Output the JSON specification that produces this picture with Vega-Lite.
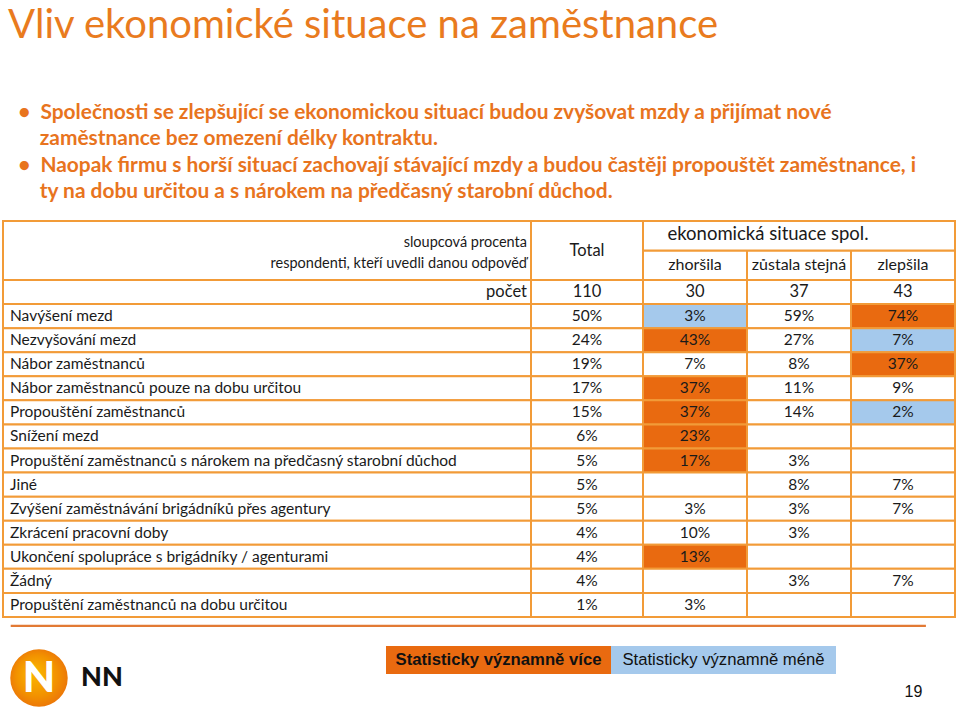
{
  "$schema": "https://vega.github.io/schema/vega-lite/v6.json",
  "background": "white",
  "padding": {"left": 2, "top": 5, "right": 0, "bottom": 0},
  "config": {
    "view": {"stroke": null},
    "text": {"font": "Lato", "fontSize": 15.5, "color": "#1A1A1A"},
    "concat": {"spacing": 0}
  },
  "title": {
    "text": "Vliv ekonomické situace na zaměstnance",
    "subtitle": [
      "\u200b\u00a0\u00a0•\u00a0\u00a0Společnosti se zlepšující se ekonomickou situací budou zvyšovat mzdy a přijímat nové",
      "\u200b\u00a0\u00a0\u00a0\u00a0\u00a0\u00a0\u200azaměstnance bez omezení délky kontraktu.",
      "\u200b\u00a0\u00a0•\u00a0\u00a0Naopak firmu s horší situací zachovají stávající mzdy a budou častěji propouštět zaměstnance, i",
      "\u200b\u00a0\u00a0\u00a0\u00a0\u00a0\u00a0\u200aty na dobu určitou a s nárokem na předčasný starobní důchod."
    ],
    "anchor": "start",
    "dx": 6,
    "font": "Lato",
    "fontSize": 40,
    "fontWeight": "normal",
    "color": "#E97B1E",
    "subtitleFont": "Lato",
    "subtitleFontSize": 20.9,
    "subtitleFontWeight": "bold",
    "subtitleColor": "#E8741E",
    "subtitlePadding": 56,
    "subtitleLineHeight": 26.5,
    "offset": 18
  },
  "datasets": {
    "cells": [
      {"item": "Navýšení mezd", "col": "Total", "pct": 0.50, "sig": ""},
      {"item": "Navýšení mezd", "col": "zhoršila", "pct": 0.03, "sig": "méně"},
      {"item": "Navýšení mezd", "col": "zůstala stejná", "pct": 0.59, "sig": ""},
      {"item": "Navýšení mezd", "col": "zlepšila", "pct": 0.74, "sig": "více"},
      {"item": "Nezvyšování mezd", "col": "Total", "pct": 0.24, "sig": ""},
      {"item": "Nezvyšování mezd", "col": "zhoršila", "pct": 0.43, "sig": "více"},
      {"item": "Nezvyšování mezd", "col": "zůstala stejná", "pct": 0.27, "sig": ""},
      {"item": "Nezvyšování mezd", "col": "zlepšila", "pct": 0.07, "sig": "méně"},
      {"item": "Nábor zaměstnanců", "col": "Total", "pct": 0.19, "sig": ""},
      {"item": "Nábor zaměstnanců", "col": "zhoršila", "pct": 0.07, "sig": ""},
      {"item": "Nábor zaměstnanců", "col": "zůstala stejná", "pct": 0.08, "sig": ""},
      {"item": "Nábor zaměstnanců", "col": "zlepšila", "pct": 0.37, "sig": "více"},
      {"item": "Nábor zaměstnanců pouze na dobu určitou", "col": "Total", "pct": 0.17, "sig": ""},
      {"item": "Nábor zaměstnanců pouze na dobu určitou", "col": "zhoršila", "pct": 0.37, "sig": "více"},
      {"item": "Nábor zaměstnanců pouze na dobu určitou", "col": "zůstala stejná", "pct": 0.11, "sig": ""},
      {"item": "Nábor zaměstnanců pouze na dobu určitou", "col": "zlepšila", "pct": 0.09, "sig": ""},
      {"item": "Propouštění zaměstnanců", "col": "Total", "pct": 0.15, "sig": ""},
      {"item": "Propouštění zaměstnanců", "col": "zhoršila", "pct": 0.37, "sig": "více"},
      {"item": "Propouštění zaměstnanců", "col": "zůstala stejná", "pct": 0.14, "sig": ""},
      {"item": "Propouštění zaměstnanců", "col": "zlepšila", "pct": 0.02, "sig": "méně"},
      {"item": "Snížení mezd", "col": "Total", "pct": 0.06, "sig": ""},
      {"item": "Snížení mezd", "col": "zhoršila", "pct": 0.23, "sig": "více"},
      {"item": "Snížení mezd", "col": "zůstala stejná", "pct": null, "sig": ""},
      {"item": "Snížení mezd", "col": "zlepšila", "pct": null, "sig": ""},
      {"item": "Propuštění zaměstnanců s nárokem na předčasný starobní důchod", "col": "Total", "pct": 0.05, "sig": ""},
      {"item": "Propuštění zaměstnanců s nárokem na předčasný starobní důchod", "col": "zhoršila", "pct": 0.17, "sig": "více"},
      {"item": "Propuštění zaměstnanců s nárokem na předčasný starobní důchod", "col": "zůstala stejná", "pct": 0.03, "sig": ""},
      {"item": "Propuštění zaměstnanců s nárokem na předčasný starobní důchod", "col": "zlepšila", "pct": null, "sig": ""},
      {"item": "Jiné", "col": "Total", "pct": 0.05, "sig": ""},
      {"item": "Jiné", "col": "zhoršila", "pct": null, "sig": ""},
      {"item": "Jiné", "col": "zůstala stejná", "pct": 0.08, "sig": ""},
      {"item": "Jiné", "col": "zlepšila", "pct": 0.07, "sig": ""},
      {"item": "Zvýšení zaměstnávání brigádníků přes agentury", "col": "Total", "pct": 0.05, "sig": ""},
      {"item": "Zvýšení zaměstnávání brigádníků přes agentury", "col": "zhoršila", "pct": 0.03, "sig": ""},
      {"item": "Zvýšení zaměstnávání brigádníků přes agentury", "col": "zůstala stejná", "pct": 0.03, "sig": ""},
      {"item": "Zvýšení zaměstnávání brigádníků přes agentury", "col": "zlepšila", "pct": 0.07, "sig": ""},
      {"item": "Zkrácení pracovní doby", "col": "Total", "pct": 0.04, "sig": ""},
      {"item": "Zkrácení pracovní doby", "col": "zhoršila", "pct": 0.10, "sig": ""},
      {"item": "Zkrácení pracovní doby", "col": "zůstala stejná", "pct": 0.03, "sig": ""},
      {"item": "Zkrácení pracovní doby", "col": "zlepšila", "pct": null, "sig": ""},
      {"item": "Ukončení spolupráce s brigádníky / agenturami", "col": "Total", "pct": 0.04, "sig": ""},
      {"item": "Ukončení spolupráce s brigádníky / agenturami", "col": "zhoršila", "pct": 0.13, "sig": "více"},
      {"item": "Ukončení spolupráce s brigádníky / agenturami", "col": "zůstala stejná", "pct": null, "sig": ""},
      {"item": "Ukončení spolupráce s brigádníky / agenturami", "col": "zlepšila", "pct": null, "sig": ""},
      {"item": "Žádný", "col": "Total", "pct": 0.04, "sig": ""},
      {"item": "Žádný", "col": "zhoršila", "pct": null, "sig": ""},
      {"item": "Žádný", "col": "zůstala stejná", "pct": 0.03, "sig": ""},
      {"item": "Žádný", "col": "zlepšila", "pct": 0.07, "sig": ""},
      {"item": "Propuštění zaměstnanců na dobu určitou", "col": "Total", "pct": 0.01, "sig": ""},
      {"item": "Propuštění zaměstnanců na dobu určitou", "col": "zhoršila", "pct": 0.03, "sig": ""},
      {"item": "Propuštění zaměstnanců na dobu určitou", "col": "zůstala stejná", "pct": null, "sig": ""},
      {"item": "Propuštění zaměstnanců na dobu určitou", "col": "zlepšila", "pct": null, "sig": ""}
    ],
    "counts": [
      {"col": "Total", "n": 110},
      {"col": "zhoršila", "n": 30},
      {"col": "zůstala stejná", "n": 37},
      {"col": "zlepšila", "n": 43}
    ],
    "legend": [
      {"sig": "více", "label": "Statisticky významně více"},
      {"sig": "méně", "label": "Statisticky významně méně"}
    ]
  },
  "vconcat": [
    {
      "vconcat": [
        {
          "columns": 3,
          "spacing": 0,
          "bounds": "flush",
          "concat": [
            {
              "width": 528,
              "height": 59,
              "view": {"stroke": "#F29B38", "strokeWidth": 2},
              "layer": [
                {
                  "data": {"values": [{"line": "sloupcová procenta"}]},
                  "mark": {"type": "text", "align": "right", "fontSize": 14.5, "dx": -4, "dy": -7.5},
                  "encoding": {"x": {"value": "width"}, "text": {"field": "line"}}
                },
                {
                  "data": {"values": [{"line": "respondenti, kteří uvedli danou odpověď"}]},
                  "mark": {"type": "text", "align": "right", "fontSize": 14.5, "dx": -4, "dy": 13.5},
                  "encoding": {"x": {"value": "width"}, "text": {"field": "line"}}
                }
              ]
            },
            {
              "width": 112,
              "height": 59,
              "view": {"stroke": "#F29B38", "strokeWidth": 2},
              "data": {"values": [{"label": "Total"}]},
              "mark": {"type": "text", "fontSize": 16.5},
              "encoding": {"text": {"field": "label"}}
            },
            {
              "width": 312,
              "height": 59,
              "layer": [
                {
                  "data": {"name": "counts"},
                  "transform": [{"filter": "datum.col !== 'Total'"}],
                  "mark": {"type": "rect", "fill": "white", "stroke": "#F29B38", "strokeWidth": 2},
                  "encoding": {
                    "x": {"field": "col", "type": "nominal", "axis": null, "scale": {"domain": ["zhoršila", "zůstala stejná", "zlepšila"], "paddingInner": 0, "paddingOuter": 0}},
                    "y": {"datum": "sub", "type": "nominal", "axis": null, "scale": {"domain": ["grp", "sub"], "paddingInner": 0, "paddingOuter": 0}}
                  }
                },
                {
                  "data": {"name": "counts"},
                  "transform": [{"filter": "datum.col !== 'Total'"}],
                  "mark": {"type": "text", "fontSize": 16},
                  "encoding": {
                    "x": {"field": "col", "type": "nominal"},
                    "y": {"datum": "sub", "type": "nominal"},
                    "text": {"field": "col"}
                  }
                },
                {
                  "data": {"values": [{"label": "ekonomická situace spol."}]},
                  "mark": {"type": "bar", "fill": "white", "stroke": "#F29B38", "strokeWidth": 2},
                  "encoding": {"y": {"datum": "grp", "type": "nominal"}}
                },
                {
                  "data": {"values": [{"label": "ekonomická situace spol."}]},
                  "mark": {"type": "text", "fontSize": 18.5, "dx": -31, "dy": -2},
                  "encoding": {"y": {"datum": "grp", "type": "nominal"}, "text": {"field": "label"}}
                }
              ]
            },
            {
              "width": 528,
              "height": 337,
              "encoding": {
                "y": {"field": "item", "type": "nominal", "axis": null, "sort": null,
                      "scale": {"domain": ["počet", "Navýšení mezd", "Nezvyšování mezd", "Nábor zaměstnanců", "Nábor zaměstnanců pouze na dobu určitou", "Propouštění zaměstnanců", "Snížení mezd", "Propuštění zaměstnanců s nárokem na předčasný starobní důchod", "Jiné", "Zvýšení zaměstnávání brigádníků přes agentury", "Zkrácení pracovní doby", "Ukončení spolupráce s brigádníky / agenturami", "Žádný", "Propuštění zaměstnanců na dobu určitou"], "paddingInner": 0, "paddingOuter": 0}}
              },
              "layer": [
                {
                  "data": {"name": "cells"},
                  "transform": [{"filter": "datum.col === 'Total'"}],
                  "mark": {"type": "bar", "fill": "white", "stroke": "#F29B38", "strokeWidth": 2}
                },
                {
                  "data": {"name": "cells"},
                  "transform": [{"filter": "datum.col === 'Total'"}],
                  "mark": {"type": "text", "align": "left", "dx": 7},
                  "encoding": {"x": {"value": 0}, "text": {"field": "item"}}
                },
                {
                  "data": {"name": "counts"},
                  "transform": [{"filter": "datum.col === 'Total'"}],
                  "mark": {"type": "bar", "fill": "white", "stroke": "#F29B38", "strokeWidth": 2},
                  "encoding": {"y": {"datum": "počet", "type": "nominal"}}
                },
                {
                  "data": {"name": "counts"},
                  "transform": [{"filter": "datum.col === 'Total'"}],
                  "mark": {"type": "text", "align": "right", "dx": -4, "fontSize": 16.5},
                  "encoding": {"y": {"datum": "počet", "type": "nominal"}, "x": {"value": "width"}, "text": {"value": "počet"}}
                }
              ]
            },
            {
              "width": 112,
              "height": 337,
              "encoding": {
                "y": {"field": "item", "type": "nominal", "axis": null, "sort": null,
                      "scale": {"domain": ["počet", "Navýšení mezd", "Nezvyšování mezd", "Nábor zaměstnanců", "Nábor zaměstnanců pouze na dobu určitou", "Propouštění zaměstnanců", "Snížení mezd", "Propuštění zaměstnanců s nárokem na předčasný starobní důchod", "Jiné", "Zvýšení zaměstnávání brigádníků přes agentury", "Zkrácení pracovní doby", "Ukončení spolupráce s brigádníky / agenturami", "Žádný", "Propuštění zaměstnanců na dobu určitou"], "paddingInner": 0, "paddingOuter": 0}}
              },
              "layer": [
                {
                  "data": {"name": "cells"},
                  "transform": [{"filter": "datum.col === 'Total'"}],
                  "mark": {"type": "bar", "fill": "white", "stroke": "#F29B38", "strokeWidth": 2}
                },
                {
                  "data": {"name": "cells"},
                  "transform": [{"filter": "datum.col === 'Total'"}],
                  "mark": {"type": "text"},
                  "encoding": {"text": {"field": "pct", "type": "quantitative", "format": ".0%"}}
                },
                {
                  "data": {"name": "counts"},
                  "transform": [{"filter": "datum.col === 'Total'"}],
                  "mark": {"type": "bar", "fill": "white", "stroke": "#F29B38", "strokeWidth": 2},
                  "encoding": {"y": {"datum": "počet", "type": "nominal"}}
                },
                {
                  "data": {"name": "counts"},
                  "transform": [{"filter": "datum.col === 'Total'"}],
                  "mark": {"type": "text", "fontSize": 16.5},
                  "encoding": {"y": {"datum": "počet", "type": "nominal"}, "text": {"field": "n", "type": "quantitative", "format": "d"}}
                }
              ]
            },
            {
              "width": 312,
              "height": 337,
              "encoding": {
                "x": {"field": "col", "type": "nominal", "axis": null, "scale": {"domain": ["zhoršila", "zůstala stejná", "zlepšila"], "paddingInner": 0, "paddingOuter": 0}},
                "y": {"field": "item", "type": "nominal", "axis": null, "sort": null,
                      "scale": {"domain": ["počet", "Navýšení mezd", "Nezvyšování mezd", "Nábor zaměstnanců", "Nábor zaměstnanců pouze na dobu určitou", "Propouštění zaměstnanců", "Snížení mezd", "Propuštění zaměstnanců s nárokem na předčasný starobní důchod", "Jiné", "Zvýšení zaměstnávání brigádníků přes agentury", "Zkrácení pracovní doby", "Ukončení spolupráce s brigádníky / agenturami", "Žádný", "Propuštění zaměstnanců na dobu určitou"], "paddingInner": 0, "paddingOuter": 0}}
              },
              "layer": [
                {
                  "data": {"name": "cells"},
                  "transform": [{"filter": "datum.col !== 'Total'"}],
                  "mark": {"type": "rect", "stroke": "#F29B38", "strokeWidth": 2, "opacity": 1},
                  "encoding": {
                    "color": {"field": "sig", "type": "nominal", "legend": null,
                              "scale": {"domain": ["více", "méně", ""], "range": ["#E96A10", "#A5C9EC", "#FFFFFF"]}}
                  }
                },
                {
                  "data": {"name": "cells"},
                  "transform": [{"filter": "datum.col !== 'Total' && datum.pct != null"}],
                  "mark": {"type": "text"},
                  "encoding": {"text": {"field": "pct", "type": "quantitative", "format": ".0%"}}
                },
                {
                  "data": {"name": "counts"},
                  "transform": [{"filter": "datum.col !== 'Total'"}],
                  "mark": {"type": "rect", "fill": "white", "stroke": "#F29B38", "strokeWidth": 2},
                  "encoding": {"y": {"datum": "počet", "type": "nominal"}}
                },
                {
                  "data": {"name": "counts"},
                  "transform": [{"filter": "datum.col !== 'Total'"}],
                  "mark": {"type": "text", "fontSize": 16.5},
                  "encoding": {"y": {"datum": "počet", "type": "nominal"}, "text": {"field": "n", "type": "quantitative", "format": "d"}}
                }
              ]
            }
          ]
        },
        {
          "hconcat": [
            {
              "width": 8,
              "height": 1,
              "data": {"values": [{}]},
              "mark": {"type": "text", "fontSize": 0},
              "encoding": {"text": {"value": ""}}
            },
            {
              "width": 914,
              "height": 1,
              "view": {"stroke": "#E27A34", "strokeWidth": 1.2, "fill": "#E27A34"},
              "data": {"values": [{}]},
              "mark": {"type": "text", "fontSize": 0},
              "encoding": {"text": {"value": ""}}
            }
          ],
          "spacing": 0,
          "bounds": "flush"
        }
      ],
      "spacing": 6
    },
    {
      "hconcat": [
        {
          "width": 72,
          "height": 64,
          "data": {"values": [{"brand": "N"}]},
          "layer": [
            {
              "mark": {"type": "point", "shape": "circle", "filled": true, "size": 3300, "opacity": 1,
                       "color": {"gradient": "radial", "x1": 0.4, "y1": 0.4, "x2": 0.5, "y2": 0.5, "r1": 0, "r2": 0.6,
                                 "stops": [{"offset": 0, "color": "#FBB800"}, {"offset": 0.6, "color": "#F29100"}, {"offset": 1, "color": "#E96B0C"}]}},
              "encoding": {}
            },
            {
              "mark": {"type": "text", "fontSize": 42, "fontWeight": 900, "color": "white", "font": "Lato", "dy": 1},
              "encoding": {"text": {"field": "brand"}}
            }
          ]
        },
        {
          "width": 311,
          "height": 64,
          "data": {"values": [{"brand": "NN"}]},
          "mark": {"type": "text", "align": "left", "fontSize": 27, "fontWeight": 900, "font": "Lato", "color": "#111111"},
          "encoding": {"x": {"value": 6}, "text": {"field": "brand"}}
        },
        {
          "width": 450,
          "height": 28,
          "data": {"name": "legend"},
          "encoding": {
            "x": {"field": "sig", "type": "nominal", "axis": null, "sort": null,
                  "scale": {"domain": ["více", "méně"], "paddingInner": 0, "paddingOuter": 0}}
          },
          "layer": [
            {
              "mark": {"type": "rect"},
              "encoding": {
                "color": {"field": "sig", "type": "nominal", "legend": null,
                          "scale": {"domain": ["více", "méně"], "range": ["#E96A10", "#A5C9EC"]}}
              }
            },
            {
              "transform": [{"filter": "datum.sig === 'více'"}],
              "mark": {"type": "text", "font": "Liberation Sans", "fontSize": 16.7, "fontWeight": "bold", "color": "#111111"},
              "encoding": {"text": {"field": "label"}}
            },
            {
              "transform": [{"filter": "datum.sig === 'méně'"}],
              "mark": {"type": "text", "font": "Liberation Sans", "fontSize": 16.7, "color": "#111111"},
              "encoding": {"text": {"field": "label"}}
            }
          ]
        },
        {
          "width": 119,
          "height": 64,
          "data": {"values": [{"page": "19"}]},
          "mark": {"type": "text", "font": "Liberation Sans", "fontSize": 16, "dx": 18, "dy": 14, "color": "#111111"},
          "encoding": {"text": {"field": "page"}}
        }
      ],
      "spacing": 0,
      "bounds": "flush"
    }
  ],
  "spacing": 19
}
